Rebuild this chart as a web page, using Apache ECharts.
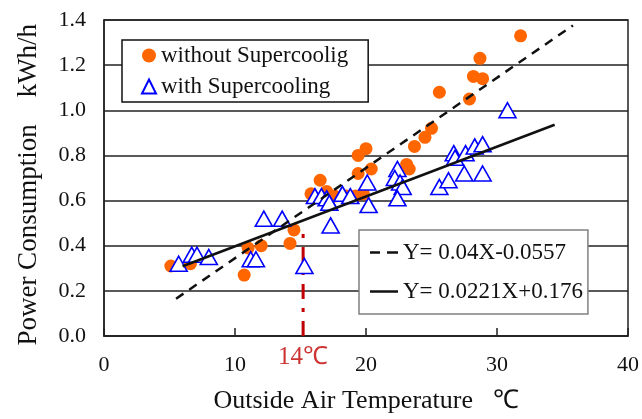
<!DOCTYPE html>
<html>
<head>
<meta charset="utf-8">
<script src="https://cdn.jsdelivr.net/npm/echarts@6/dist/echarts.min.js"></script>
<style>html,body{margin:0;padding:0;background:#fff;}#c{width:642px;height:419px;}</style>
</head>
<body>
<div id="c"></div>
<script>
const withoutSC = [[5.1,0.31],[6.6,0.32],[10.7,0.27],[11.0,0.39],[12.0,0.40],[14.2,0.41],[14.5,0.47],[15.8,0.63],[16.5,0.69],[17.0,0.64],[17.6,0.62],[18.5,0.62],[19.2,0.62],[19.8,0.63],[19.4,0.72],[19.4,0.80],[20.0,0.83],[20.4,0.74],[23.1,0.76],[23.3,0.74],[23.7,0.84],[24.5,0.88],[25.0,0.92],[25.6,1.08],[27.9,1.05],[28.2,1.15],[28.7,1.23],[28.9,1.14],[31.8,1.33]];
const withSC = [[5.7,0.32],[6.7,0.36],[7.1,0.36],[8.0,0.35],[11.2,0.34],[11.6,0.34],[12.2,0.52],[13.6,0.52],[15.3,0.31],[16.1,0.62],[16.6,0.62],[17.0,0.61],[17.2,0.59],[17.3,0.49],[18.2,0.63],[18.8,0.62],[20.1,0.68],[20.2,0.58],[22.4,0.74],[22.2,0.70],[22.6,0.68],[22.8,0.66],[22.4,0.61],[25.6,0.66],[26.3,0.69],[26.7,0.81],[26.8,0.79],[27.5,0.72],[27.6,0.81],[28.3,0.84],[28.9,0.85],[28.9,0.72],[30.8,1.00]];
const fitWithout = [[5.5,0.165],[35.8,1.376]];
const fitWith = [[6.0,0.309],[34.4,0.936]];
const thresholdLine = [[15.2,0],[15.2,0.47]];
const thresholdLabel = '14\u2103';
const names = ['without Supercoolig','with Supercooling','Y= 0.04X-0.0557','Y= 0.0221X+0.176'];
const xName = 'Outside Air Temperature   \u2103';
const yName = 'Power Consumption\u3000kWh/h\u00a0\u00a0';

const FONT = '"Liberation Serif","Times New Roman",serif';
const chart = echarts.init(document.getElementById('c'));
chart.setOption({
  animation: false,
  textStyle: {fontFamily: FONT},
  grid: {left:104, right:13, top:20, bottom:77, show:true, borderColor:'#222', borderWidth:1.5},
  legend: [
    {data:[{name:names[0], icon:'circle'},{name:names[1], icon:'triangle'}], orient:'vertical', left:122, top:40,
     padding:[4,20,4,19], itemGap:8, itemWidth:14, itemHeight:14, itemTextGap:5,
     borderColor:'#111', borderWidth:1.5, backgroundColor:'#fff',
     textStyle:{fontFamily:FONT, fontSize:23, color:'#111'}},
    {data:[{name:names[2], icon:'path://M0,0H10V2.5H0Z M17,0H28V2.5H17Z'},
           {name:names[3], icon:'path://M0,0H28V2.5H0Z'}], orient:'vertical', left:359, top:230,
     padding:[11,5,11,11], itemGap:16, itemWidth:28, itemHeight:2.5, itemTextGap:10,
     borderColor:'#808080', borderWidth:1.5, backgroundColor:'#fff',
     textStyle:{fontFamily:FONT, fontSize:23, color:'#111'}}
  ],
  xAxis: {type:'value', min:0, max:40, interval:10, name:xName, nameLocation:'middle', nameGap:52,
    nameTextStyle:{fontFamily:FONT, fontSize:26, color:'#111'},
    axisLine:{lineStyle:{color:'#222', width:1.5}}, axisTick:{inside:true, length:8, lineStyle:{color:'#222', width:1.5}},
    axisLabel:{fontFamily:FONT, fontSize:22, color:'#111', margin:18}, splitLine:{show:false}},
  yAxis: {type:'value', min:0, max:1.4, interval:0.2, name:yName, nameLocation:'middle', nameGap:62,
    nameTextStyle:{fontFamily:FONT, fontSize:27, color:'#111'},
    axisLine:{show:true, lineStyle:{color:'#222', width:1.5}}, axisTick:{show:false},
    axisLabel:{fontFamily:FONT, fontSize:22, color:'#111', margin:18, formatter:v=>v.toFixed(1)},
    splitLine:{lineStyle:{color:'#222', width:1.5}}},
  series: [
    {name:'threshold', type:'line', data:thresholdLine, symbol:'none', z:1,
     lineStyle:{color:'#c00000', width:3, type:[15,9,4,9]}},
    {name:'thresholdLabel', type:'scatter', data:[thresholdLine[0]], symbolSize:0, z:1,
     label:{show:true, position:'bottom', distance:9, formatter:thresholdLabel, fontFamily:FONT, fontSize:25, color:'#c00000'}},
    {name:names[0], type:'scatter', data:withoutSC, symbol:'circle', symbolSize:13, z:2,
     itemStyle:{color:'#ff6600', opacity:1}},
    {name:names[1], type:'scatter', data:withSC, symbol:'triangle', symbolSize:[17,15], z:3,
     itemStyle:{color:'#fff', borderColor:'#0000ff', borderWidth:1.6, opacity:1}},
    {name:names[2], type:'line', data:fitWithout, symbol:'none', z:4,
     lineStyle:{color:'#111', width:2.5, type:[9,7]}, itemStyle:{color:'#111'}},
    {name:names[3], type:'line', data:fitWith, symbol:'none', z:4,
     lineStyle:{color:'#111', width:2.5}, itemStyle:{color:'#111'}}
  ]
});
</script>
</body>
</html>
